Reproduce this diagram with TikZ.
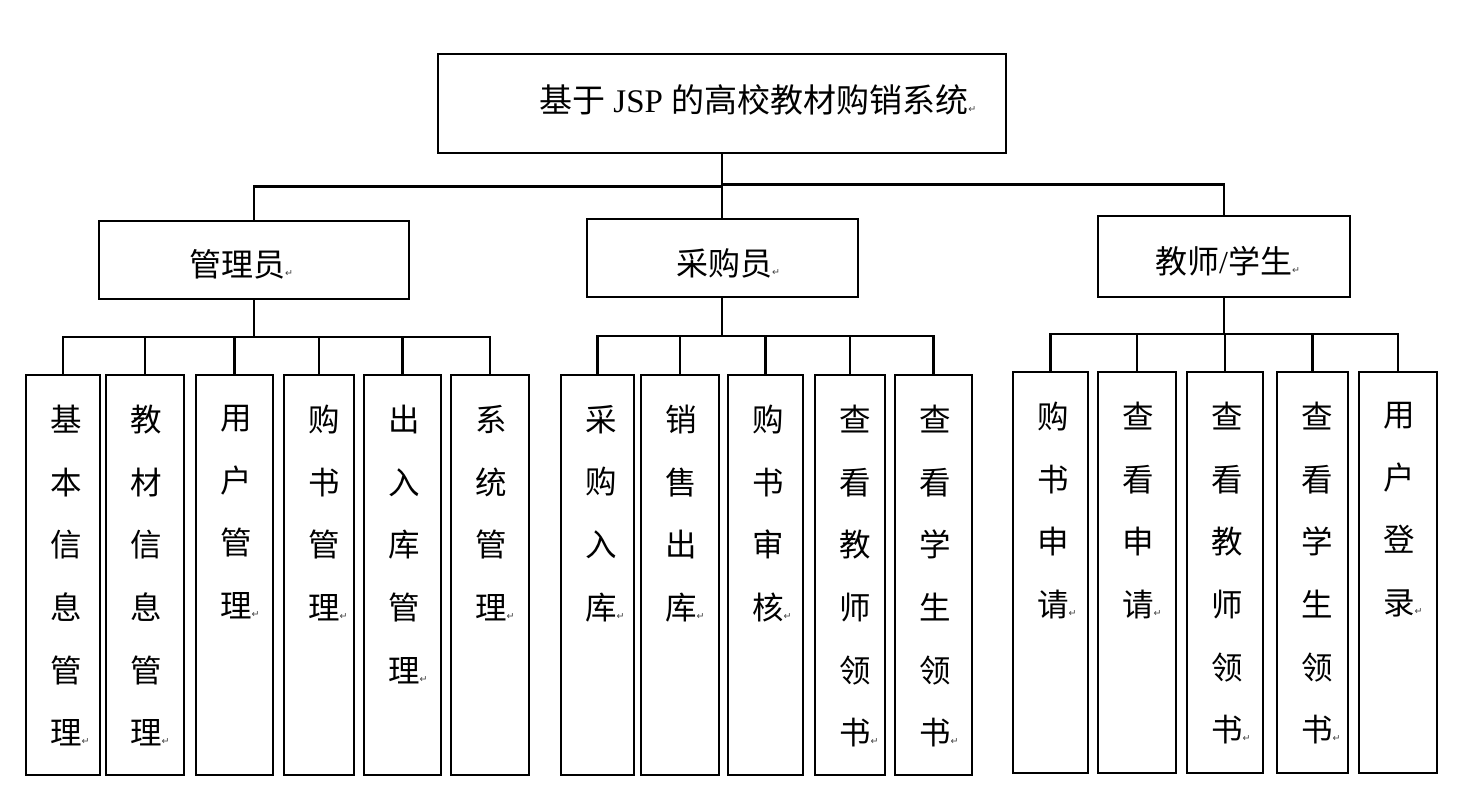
\documentclass[tikz,border=0pt]{standalone}
\usepackage{fontspec}
\setmainfont{Liberation Serif}
\newfontfamily\cjk{Noto Sans CJK SC}
\newfontfamily\symf{DejaVu Sans}
\newcommand\parmk{{\symf\fontsize{9.5}{9.5}\selectfont\color{black!75}↵}}
\tikzset{
  frame/.style={draw, line width=2pt, inner sep=0pt, rectangle},
  conn/.style={line width=2.1pt},
  vtext/.style={anchor=north west, inner sep=0pt, align=left, font=\cjk\fontsize{31.5}{62.6}\selectfont},
  ltext/.style={anchor=west, inner sep=0pt, font=\cjk\fontsize{32}{32}\selectfont},
  rtext/.style={anchor=west, inner sep=0pt, font=\fontsize{33}{33}\selectfont},
}
\newcommand\leafbox[6]{%
  \node[frame, minimum width=#4pt, minimum height=#5pt] (#1) at (#2,#3) {};
  \node[vtext] (#1t) at ([xshift=25pt,yshift=-31pt]#1.north west) {#6};}
\begin{document}
\begin{tikzpicture}[x=1pt,y=-1pt]
\fill[white] (0,0) rectangle (1457,800);
\useasboundingbox (0,0) rectangle (1457,800);

% root
\node[frame, minimum width=568pt, minimum height=99pt] (root) at (722,103.5) {};
\node[rtext] (roott) at (539,100) {{\cjk 基于} JSP {\cjk 的高校教材购销系统}\parmk};

% level 2
\node[frame, minimum width=310pt, minimum height=78pt] (adm) at (254,260) {};
\node[frame, minimum width=271pt, minimum height=78pt] (pur) at (722,258) {};
\node[frame, minimum width=252pt, minimum height=81pt] (tea) at (1224,256.5) {};
\node[ltext] (admt) at (189,264) {管理员\parmk};
\node[ltext] (purt) at (676,263) {采购员\parmk};
\node[ltext] (teat) at (1155,261) {教师{\rmfamily /}学生\parmk};

% leaves: admin
\leafbox{a1}{63}{575}{74}{400}{基\\本\\信\\息\\管\\理\parmk}
\leafbox{a2}{145}{575}{78}{400}{教\\材\\信\\息\\管\\理\parmk}
\leafbox{a3}{234.5}{575}{77}{400}{用\\户\\管\\理\parmk}
\leafbox{a4}{319}{575}{70}{400}{购\\书\\管\\理\parmk}
\leafbox{a5}{402.5}{575}{77}{400}{出\\入\\库\\管\\理\parmk}
\leafbox{a6}{490}{575}{78}{400}{系\\统\\管\\理\parmk}
% leaves: purchaser
\leafbox{p1}{597.5}{575}{73}{400}{采\\购\\入\\库\parmk}
\leafbox{p2}{680}{575}{78}{400}{销\\售\\出\\库\parmk}
\leafbox{p3}{765.5}{575}{75}{400}{购\\书\\审\\核\parmk}
\leafbox{p4}{850}{575}{70}{400}{查\\看\\教\\师\\领\\书\parmk}
\leafbox{p5}{933.5}{575}{77}{400}{查\\看\\学\\生\\领\\书\parmk}
% leaves: teacher/student
\leafbox{t1}{1050.5}{572.5}{75}{401}{购\\书\\申\\请\parmk}
\leafbox{t2}{1137}{572.5}{78}{401}{查\\看\\申\\请\parmk}
\leafbox{t3}{1225}{572.5}{76}{401}{查\\看\\教\\师\\领\\书\parmk}
\leafbox{t4}{1312.5}{572.5}{71}{401}{查\\看\\学\\生\\领\\书\parmk}
\leafbox{t5}{1398}{572.5}{78}{401}{用\\户\\登\\录\parmk}

% top connectors
\coordinate (j1) at (722,186.5);
\coordinate (j2) at (722,184.5);
\draw[conn] (root.south) -- (pur.north);
\draw[conn] (j1) -| (adm.north);
\draw[conn] (j2) -| (tea.north);

% admin bar
\coordinate (ab) at (254,337);
\draw[conn, line width=2.8pt] (adm.south) -- (ab);
\draw[conn] (a1.north) |- (ab) -| (a6.north);
\foreach \n in {a2,a3,a4,a5} \draw[conn] (\n.north) -- (\n.north |- ab);

% purchaser bar
\coordinate (pb) at (722,336);
\draw[conn] (pur.south) -- (pb);
\draw[conn] (p1.north) |- (pb) -| (p5.north);
\foreach \n in {p2,p3,p4} \draw[conn] (\n.north) -- (\n.north |- pb);

% teacher bar
\coordinate (tb) at (1224,334);
\draw[conn] (tea.south) -- (tb);
\draw[conn] (t1.north) |- (tb) -| (t5.north);
\foreach \n in {t2,t3,t4} \draw[conn] (\n.north) -- (\n.north |- tb);
\end{tikzpicture}
\end{document}
